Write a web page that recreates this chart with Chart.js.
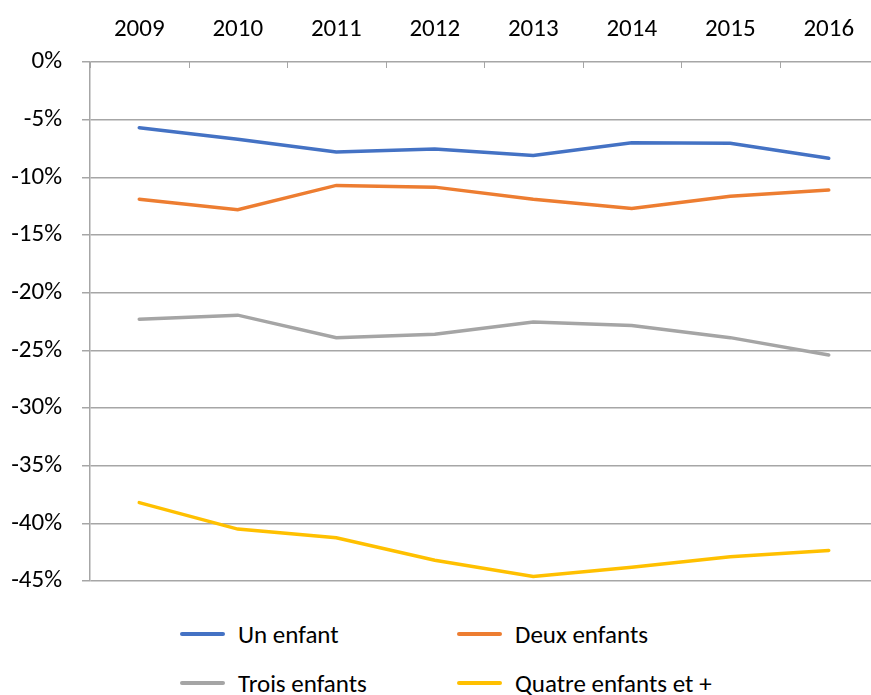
<!DOCTYPE html>
<html lang="fr">
<head>
    <meta charset="UTF-8">
    <title>Écart par nombre d'enfants</title>
    <script src="https://cdn.jsdelivr.net/npm/chart.js"></script>
    <style>
        html, body {
            margin: 0;
            padding: 0;
            background: white;
            overflow: hidden;
            width: 871px;
            height: 695px;
        }
        body {
            position: relative;
            font-family: Carlito, Calibri, Lato, sans-serif;
        }
        .chart-box {
            position: absolute;
            left: 0;
            top: 0;
            width: 878px;
            height: 616px;
        }
        .legend {
            position: absolute;
            left: 180px;
            top: 619px;
            display: grid;
            grid-template-columns: 277px 320px;
            row-gap: 19px;
            font-size: 25px;
            color: #000;
        }
        .legend-item {
            display: flex;
            align-items: center;
            height: 30px;
        }
        .legend-line {
            width: 45px;
            height: 4px;
            border-radius: 2px;
            margin-right: 13px;
        }
    </style>
</head>
<body>
    <div class="chart-box">
        <canvas id="lineChart"></canvas>
    </div>
    <div class="legend" id="legend"></div>

    <script>
        // Data
        const years = ['2009', '2010', '2011', '2012', '2013', '2014', '2015', '2016'];
        const unEnfant = [-5.7, -6.7, -7.8, -7.55, -8.1, -7.0, -7.05, -8.35];
        const deuxEnfants = [-11.9, -12.8, -10.7, -10.85, -11.9, -12.7, -11.65, -11.1];
        const troisEnfants = [-22.3, -21.95, -23.9, -23.6, -22.55, -22.85, -23.9, -25.4];
        const quatreEnfants = [-38.2, -40.5, -41.25, -43.2, -44.6, -43.8, -42.9, -42.35];

        const fontFamily = 'Carlito, Calibri, Lato, sans-serif';
        const gridColor = '#a6a6a6';

        const series = [
            { label: 'Un enfant', data: unEnfant, color: '#4472C4' },
            { label: 'Deux enfants', data: deuxEnfants, color: '#ED7D31' },
            { label: 'Trois enfants', data: troisEnfants, color: '#A5A5A5' },
            { label: 'Quatre enfants et +', data: quatreEnfants, color: '#FFC000' }
        ];

        // small tick marks under the top axis, between categories
        const xTickMarks = {
            id: 'xTickMarks',
            afterDraw(chart) {
                const x = chart.scales.x;
                const top = chart.chartArea.top;
                const ctx = chart.ctx;
                const step = x.getPixelForValue(1) - x.getPixelForValue(0);
                ctx.save();
                ctx.strokeStyle = gridColor;
                ctx.lineWidth = 1;
                for (let i = 0; i <= years.length; i++) {
                    const px = Math.round(x.getPixelForValue(i) - step / 2) + 0.5;
                    ctx.beginPath();
                    ctx.moveTo(px, top);
                    ctx.lineTo(px, top + 6);
                    ctx.stroke();
                }
                ctx.restore();
            }
        };

        new Chart(document.getElementById('lineChart'), {
            type: 'line',
            data: {
                labels: years,
                datasets: series.map(s => ({
                    label: s.label,
                    data: s.data,
                    borderColor: s.color,
                    backgroundColor: s.color,
                    borderWidth: 3.5,
                    pointRadius: 0,
                    tension: 0,
                    borderCapStyle: 'round'
                }))
            },
            options: {
                responsive: true,
                maintainAspectRatio: false,
                animation: false,
                layout: { padding: { top: 12, bottom: 20, left: 0, right: 0 } },
                plugins: {
                    legend: { display: false },
                    tooltip: { enabled: false }
                },
                scales: {
                    x: {
                        position: 'top',
                        offset: true,
                        grid: { display: false },
                        border: { display: false },
                        ticks: {
                            color: '#000',
                            padding: 9,
                            font: { family: fontFamily, size: 25 }
                        },
                        afterFit(scale) { scale.height = 50; }
                    },
                    y: {
                        min: -45,
                        max: 0,
                        ticks: {
                            stepSize: 5,
                            color: '#000',
                            padding: 20,
                            font: { family: fontFamily, size: 25 },
                            callback: v => v + '%'
                        },
                        grid: {
                            color: gridColor,
                            lineWidth: 1.5,
                            tickLength: 8
                        },
                        border: { color: gridColor, width: 1.5 },
                        afterFit(scale) { scale.width = 90; }
                    }
                }
            },
            plugins: [xTickMarks]
        });

        // legend in two columns, like the original
        const legend = document.getElementById('legend');
        series.forEach(s => {
            const item = document.createElement('div');
            item.className = 'legend-item';
            item.innerHTML = `<span class="legend-line" style="background:${s.color}"></span><span>${s.label}</span>`;
            legend.appendChild(item);
        });
    </script>
</body>
</html>
